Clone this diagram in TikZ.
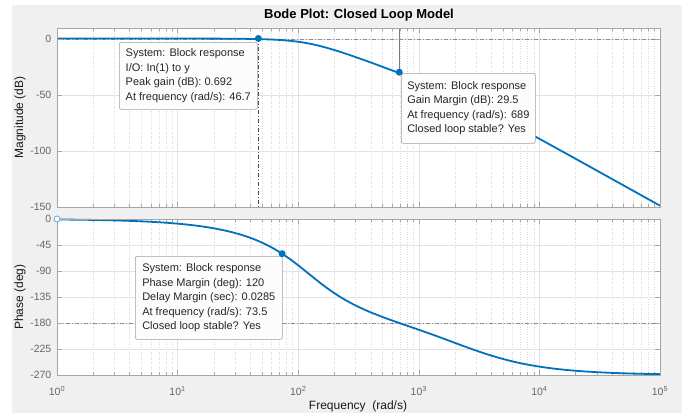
\documentclass[tikz,border=0pt]{standalone}
\usepackage{fontspec}
\setmainfont{Liberation Sans}
\definecolor{figbg}{HTML}{F0F0F0}
\definecolor{mblue}{HTML}{0072BD}
\definecolor{lblue}{HTML}{5FA8DE}
\definecolor{boxgray}{HTML}{A6A6A6}
\definecolor{ticklab}{HTML}{666666}
\definecolor{gridc}{HTML}{E2E2E2}
\definecolor{mingrid}{HTML}{D9D9D9}
\definecolor{tipborder}{HTML}{A0A0A0}
\definecolor{tipfill}{HTML}{FCFCFC}
\definecolor{refline}{HTML}{8C8C8C}
\definecolor{darkref}{HTML}{4D4D4D}
\definecolor{gmgray}{HTML}{7A7A7A}
\definecolor{tiptext}{HTML}{262626}
\begin{document}
\begin{tikzpicture}[x=1pt,y=-1pt,
  declare function={
    qp(\u)=10^(-abs(\u-3.3771));
    qc(\u)=10^(-abs(\u-2.0761));
    magdb(\u)=0.6-20*max(0,\u-3.3771)-10*log10(1+qp(\u)*qp(\u))-40*max(0,\u-2.0761)-10*log10((1-qc(\u)*qc(\u))*(1-qc(\u)*qc(\u))+(1.6214*qc(\u))*(1.6214*qc(\u)));
    aq(\q)=atan2(1.6214*\q,1-\q*\q);
    phdeg(\u)=-atan(10^(\u-3.3771))-(aq(qc(\u))+(180-2*aq(qc(\u)))*min(1,max(0,(\u-2.0761)*1000)));
    xl(\u)=57+120.6*\u;
    ym(\d)=39.2-1.11875*\d;
    yp(\d)=219-0.57778*\d;
  },
  majgrid/.style={draw=gridc, line width=0.6pt},
  mingridline/.style={draw=mingrid, line width=0.5pt, dash pattern=on 1pt off 1.5pt},
  axbox/.style={draw=boxgray, line width=0.7pt},
  tickmark/.style={draw=boxgray, line width=0.6pt},
  dashdotline/.style={draw=refline, line width=0.6pt, dash pattern=on 4pt off 2pt on 1pt off 2pt},
  peakline/.style={draw=darkref, line width=0.7pt, dash pattern=on 4pt off 2pt on 1pt off 2pt},
  gmline/.style={draw=gmgray, line width=0.7pt},
  resp/.style={draw=mblue, line width=1.8pt, line join=round, line cap=round},
  dot/.style={circle, fill=mblue, inner sep=0pt, minimum size=7pt},
  hollow/.style={circle, draw=lblue, fill=white, line width=0.8pt, inner sep=0pt, minimum size=6pt},
  tip/.style={draw=tipborder, fill=tipfill, rounded corners=2pt, line width=0.6pt, align=left,
    text=tiptext, font=\fontsize{11}{14.5}\selectfont, inner xsep=6pt, anchor=north west},
  ytl/.style={anchor=east, text=ticklab, font=\fontsize{10.5}{12}\selectfont, inner sep=0pt},
  xtl/.style={anchor=base, text=ticklab, font=\fontsize{10.5}{12}\selectfont, inner sep=0pt},
  axlab/.style={font=\fontsize{12}{14}\selectfont, text=black!90},
]
% background
\path[use as bounding box, fill=white] (0,0) rectangle (682,413);
\fill[figbg] (12,5) rectangle (682,413);
\fill[white] (57,28) rectangle (660,207);
\fill[white] (57,219) rectangle (660,375);

% grids
\foreach \ya/\yb in {28/207, 219/375} {
  \foreach \d in {0,...,4} {
    \foreach \k in {2,...,9} {
      \pgfmathsetmacro\xx{xl(\d+log10(\k))}
      \draw[mingridline] (\xx,\ya) -- (\xx,\yb);
      \draw[tickmark] (\xx,\ya) -- ++(0,3);
      \draw[tickmark] (\xx,\yb) -- ++(0,-3);
    }
  }
  \foreach \d in {1,...,4} {
    \pgfmathsetmacro\xx{xl(\d)}
    \draw[majgrid] (\xx,\ya) -- (\xx,\yb);
  }
  \foreach \d in {0,...,5} {
    \pgfmathsetmacro\xx{xl(\d)}
    \draw[tickmark] (\xx,\ya) -- ++(0,5);
    \draw[tickmark] (\xx,\yb) -- ++(0,-5);
  }
}
\foreach \v in {0,-50,-100} {
  \pgfmathsetmacro\yy{ym(\v)}
  \draw[majgrid] (57,\yy) -- (660,\yy);
}
\foreach \v in {-45,-90,-135,-180,-225} {
  \pgfmathsetmacro\yy{yp(\v)}
  \draw[majgrid] (57,\yy) -- (660,\yy);
}

% reference lines
\coordinate (m0l) at (57,39.2);
\coordinate (m0r) at (660,39.2);
\draw[dashdotline] (m0l) -- (m0r);
\coordinate (p180l) at ({57},{yp(-180)});
\coordinate (p180r) at ({660},{yp(-180)});
\draw[dashdotline] (p180l) -- (p180r);

% markers positions
\coordinate (pk) at ({xl(log10(46.7))},{ym(0.692)});
\coordinate (pkb) at ({xl(log10(46.7))},207);
\coordinate (gm) at ({xl(log10(689))},{ym(-29.5)});
\coordinate (gmt) at ({xl(log10(689))},28);
\coordinate (pm) at ({xl(log10(73.5))},{yp(-60)});

\draw[peakline] (pk) -- (pkb);
\draw[gmline] (gmt) -- (gm);

% responses
\begin{scope}
\clip (57,28) rectangle (660,207);
\draw[resp] plot[domain=0:5, samples=260] ({xl(\x)},{ym(magdb(\x))});
\end{scope}
\draw[resp] plot[domain=0:5, samples=260] ({xl(\x)},{yp(phdeg(\x))});

% axes boxes
\draw[axbox] (57,28) rectangle (660,207);
\draw[axbox] (57,219) rectangle (660,375);

% y ticks
\foreach \v in {0,-50,-100,-150} {
  \pgfmathsetmacro\yy{ym(\v)}
  \draw[tickmark] (57,\yy) -- ++(5,0);
  \draw[tickmark] (660,\yy) -- ++(-5,0);
  \node[ytl] at (51.5,\yy) {\v};
}
\foreach \v in {0,-45,-90,-135,-180,-225,-270} {
  \pgfmathsetmacro\yy{yp(\v)}
  \draw[tickmark] (57,\yy) -- ++(5,0);
  \draw[tickmark] (660,\yy) -- ++(-5,0);
  \node[ytl] at (51.5,\yy) {\v};
}
\foreach \d in {0,...,5} {
  \pgfmathsetmacro\xx{xl(\d)}
  \node[xtl] at (\xx,395.3) {10\textsuperscript{\d}};
}

% data tips
\node[tip, minimum width=138pt, minimum height=67pt] (tip1) at (119,42)
  {System: Block response\\I/O: In(1) to y\\Peak gain (dB): 0.692\\At frequency (rad/s): 46.7};
\node[tip, minimum width=134pt, minimum height=70pt] (tip2) at (401,73)
  {System: Block response\\Gain Margin (dB): 29.5\\At frequency (rad/s): 689\\Closed loop stable? Yes};
\node[tip, minimum width=147pt, minimum height=83pt] (tip3) at (135,256)
  {System: Block response\\Phase Margin (deg): 120\\Delay Margin (sec): 0.0285\\At frequency (rad/s): 73.5\\Closed loop stable? Yes};

\node[dot] (pkdot) at (pk) {};
\node[dot] (gmdot) at (gm) {};
\node[dot] (pmdot) at (pm) {};
\node[hollow] (start) at (57,219) {};

% labels
\node[font=\bfseries\fontsize{13}{15}\selectfont] (title) at (359,15) {Bode Plot: Closed Loop Model};
\node[axlab, rotate=90] (ylm) at (20,117.5) {Magnitude (dB)};
\node[axlab, rotate=90] (ylp) at (20,297) {Phase (deg)};
\node[axlab] (xlab) at (358,406) {Frequency~ (rad/s)};
\end{tikzpicture}
\end{document}
